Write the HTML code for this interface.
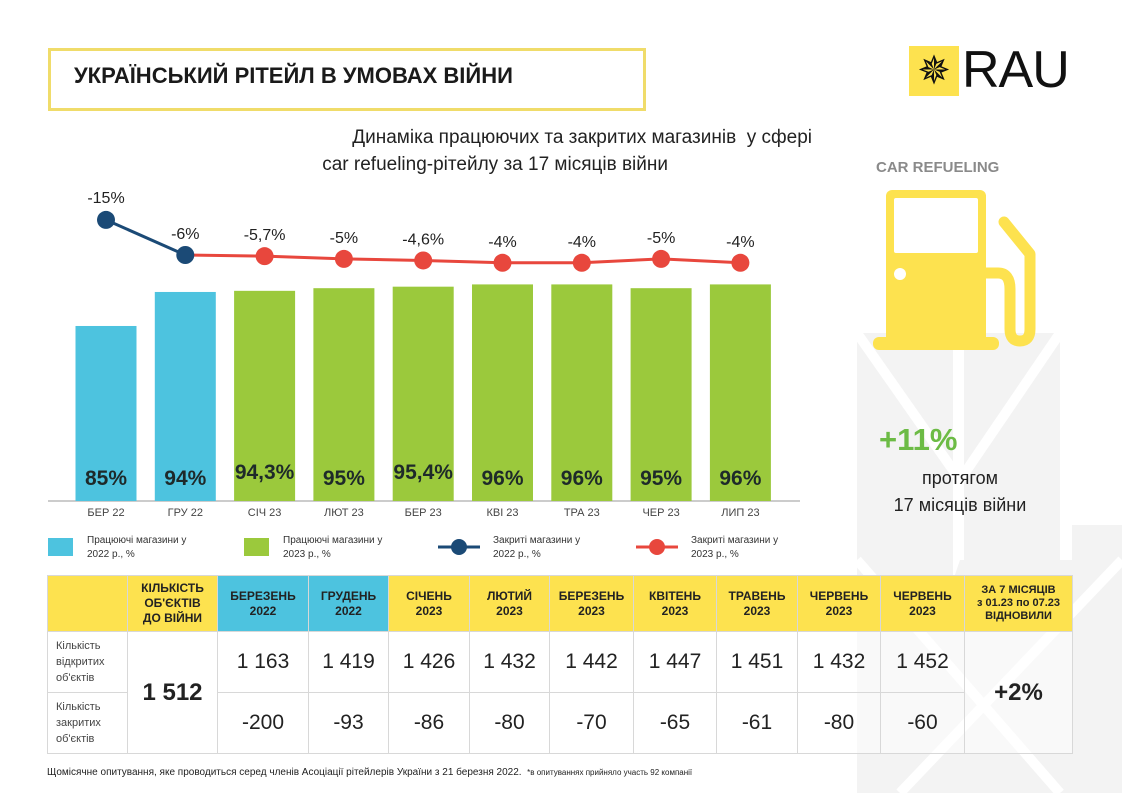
<!DOCTYPE html>
<html><head><meta charset="utf-8"><style>
html,body{margin:0;padding:0;background:#fff}
body{width:1122px;height:793px;position:relative;overflow:hidden;font-family:"Liberation Sans Narrow","Liberation Sans",sans-serif;color:#222}
.abs{position:absolute}
table{border-collapse:collapse;position:absolute;left:47px;top:575px;table-layout:fixed}
td{border:1px solid #d8d8d8;text-align:center;padding:0;background:rgba(255,255,255,0.5)}
td.h{background:#fde24f;font-size:12px;font-weight:bold;line-height:15px;color:#222;height:55px}
td.hb{background:#4dc3df}
td.n{font-family:"Liberation Sans",sans-serif;font-size:21px;color:#222;height:60px}
td.lab{font-size:11px;color:#444;text-align:left;padding-left:8px;line-height:16px}
</style></head><body>
<svg class="abs" style="left:0;top:0" width="1122" height="793">
<g fill="#f3f3f3">
<rect x="857" y="333" width="96" height="460"/>
<rect x="964" y="333" width="96" height="460"/>
<rect x="1072" y="525" width="50" height="95"/>
<rect x="1072" y="637" width="50" height="96"/>
<polygon points="960,560 1122,560 1122,793 880,793"/>
</g>
<g stroke="#fff" stroke-width="10">
<line x1="857" y1="333" x2="960" y2="480"/><line x1="1060" y1="333" x2="960" y2="480"/>
<line x1="857" y1="560" x2="1060" y2="793"/><line x1="1122" y1="560" x2="900" y2="793"/>
</g>
</svg>

<div class="abs" style="left:48px;top:48px;width:592px;height:57px;border:3px solid #f0dc6a;"></div>
<div class="abs" style="left:74px;top:63px;font-size:22px;font-weight:bold;color:#1a1a1a">УКРАЇНСЬКИЙ РІТЕЙЛ В УМОВАХ ВІЙНИ</div>

<div class="abs" style="left:909px;top:46px;width:50px;height:50px;background:#fde24f;display:flex;align-items:center;justify-content:center;font-size:40px;color:#111;line-height:1">✵</div>
<div class="abs" style="left:962px;top:40px;font-family:'Liberation Sans',sans-serif;font-size:52px;color:#111;letter-spacing:-1px">RAU</div>

<div class="abs" style="left:200px;top:124px;width:612px;text-align:right;font-size:19px;line-height:27px;color:#222">Динаміка працюючих та закритих магазинів&nbsp; у сфері<br><span style="margin-right:144px">car refueling-рітейлу за 17 місяців війни</span></div>

<div class="abs" style="left:876px;top:159px;font-family:'Liberation Sans',sans-serif;font-weight:bold;font-size:15px;color:#8a8a8a">CAR REFUELING</div>
<svg class="abs" style="left:870px;top:185px" width="180" height="180">
<g fill="#fde24f">
<rect x="16" y="5" width="100" height="155" rx="6"/>
<rect x="3" y="152" width="126" height="13" rx="6"/>
</g>
<rect x="24" y="13" width="84" height="55" fill="#fff" rx="2"/>
<circle cx="30" cy="89" r="6" fill="#fff"/>
<path d="M116 88 h12 q12 0 12 16 v40 q0 12 10 12 q10 0 10 -12 v-75 l-26 -32" fill="none" stroke="#fde24f" stroke-width="11" stroke-linecap="round" stroke-linejoin="round"/>
</svg>
<div class="abs" style="left:879px;top:422px;font-family:'Liberation Sans',sans-serif;font-weight:bold;font-size:31px;color:#6cbb45">+11%</div>
<div class="abs" style="left:860px;top:465px;width:200px;text-align:center;font-family:'Liberation Sans',sans-serif;font-size:18px;line-height:27px;color:#222">протягом<br>17 місяців війни</div>

<svg id="chart" class="abs" style="left:0;top:0" width="820" height="570"></svg>

<table>
<colgroup><col style="width:80px"><col style="width:90px"><col style="width:91px"><col style="width:80px"><col style="width:81px"><col style="width:80px"><col style="width:84px"><col style="width:83px"><col style="width:81px"><col style="width:83px"><col style="width:84px"><col style="width:108px"></colgroup>
<tr>
<td class="h"></td>
<td class="h">КІЛЬКІСТЬ<br>ОБ'ЄКТІВ<br>ДО ВІЙНИ</td>
<td class="h hb">БЕРЕЗЕНЬ<br>2022</td>
<td class="h hb">ГРУДЕНЬ<br>2022</td>
<td class="h">СІЧЕНЬ<br>2023</td>
<td class="h">ЛЮТИЙ<br>2023</td>
<td class="h">БЕРЕЗЕНЬ<br>2023</td>
<td class="h">КВІТЕНЬ<br>2023</td>
<td class="h">ТРАВЕНЬ<br>2023</td>
<td class="h">ЧЕРВЕНЬ<br>2023</td>
<td class="h">ЧЕРВЕНЬ<br>2023</td>
<td class="h" style="font-size:11px;line-height:13px">ЗА 7 МІСЯЦІВ<br>з 01.23 по 07.23<br>ВІДНОВИЛИ</td>
</tr>
<tr>
<td class="lab">Кількість<br>відкритих<br>об'єктів</td>
<td class="n" rowspan="2" style="font-weight:bold;font-size:24px">1 512</td>
<td class="n">1 163</td><td class="n">1 419</td><td class="n">1 426</td><td class="n">1 432</td><td class="n">1 442</td><td class="n">1 447</td><td class="n">1 451</td><td class="n">1 432</td><td class="n">1 452</td>
<td class="n" rowspan="2" style="font-weight:bold;font-size:24px">+2%</td>
</tr>
<tr>
<td class="lab">Кількість<br>закритих<br>об'єктів</td>
<td class="n">-200</td><td class="n">-93</td><td class="n">-86</td><td class="n">-80</td><td class="n">-70</td><td class="n">-65</td><td class="n">-61</td><td class="n">-80</td><td class="n">-60</td>
</tr>
</table>

<div class="abs" style="left:47px;top:767px;font-size:10px;color:#222">Щомісячне опитування, яке проводиться серед членів Асоціації рітейлерів України з 21 березня 2022. &nbsp;<span style="font-size:8px">*в опитуваннях прийняло участь 92 компанії</span></div>

<script>
const categories = ["БЕР 22","ГРУ 22","СІЧ 23","ЛЮТ 23","БЕР 23","КВІ 23","ТРА 23","ЧЕР 23","ЛИП 23"];
const openValues = [85,94,94.3,95,95.4,96,96,95,96];
const openLabels = ["85%","94%","94,3%","95%","95,4%","96%","96%","95%","96%"];
const closedValues = [-15,-6,-5.7,-5,-4.6,-4,-4,-5,-4];
const closedLabels = ["-15%","-6%","-5,7%","-5%","-4,6%","-4%","-4%","-5%","-4%"];
const yearOf = [2022,2022,2023,2023,2023,2023,2023,2023,2023];

const svg = document.getElementById('chart');
const NS = 'http://www.w3.org/2000/svg';
const x0 = 106, step = 79.3, barW = 61, base = 501;
const xPos = i => x0 + i*step;
const yBar = v => base - (v - 38.7) * 3.78;
const yLine = v => 255 + (v + 6) * 3.9;
function mk(tag, attrs){const e=document.createElementNS(NS,tag);for(const k in attrs)e.setAttribute(k,attrs[k]);svg.appendChild(e);return e;}

const axis = mk('line',{x1:48,y1:base,x2:800,y2:base,stroke:'#999','stroke-width':1});



categories.forEach((c,i)=>{
  const r = mk('rect',{x:xPos(i)-barW/2,y:yBar(openValues[i]),width:barW,height:base-yBar(openValues[i]),fill:yearOf[i]===2022?'#4dc3df':'#9bc93c'});
  
  
  const lift = openLabels[i].length > 4 ? 6 : 0;
  const t = mk('text',{x:xPos(i),y:485-lift,'text-anchor':'middle','font-size':21,'font-weight':'bold',fill:'#1e2a2a'});
  t.textContent = openLabels[i];
  
  
  const xl = mk('text',{x:xPos(i),y:516,'text-anchor':'middle','font-size':11,fill:'#444'});
  xl.textContent = c;
  
  
});

function series(idx, color, name){
  const pts = idx.map(i=>xPos(i)+','+yLine(closedValues[i])).join(' ');
  const pl = mk('polyline',{points:pts,fill:'none',stroke:color,'stroke-width':3});
  
  
}
series([1,2,3,4,5,6,7,8],'#e8473d','closed-2023');
series([0,1],'#1b4a76','closed-2022');
closedValues.forEach((v,i)=>{
  const c = mk('circle',{cx:xPos(i),cy:yLine(v),r:9,fill:yearOf[i]===2022?'#1b4a76':'#e8473d'});
  
  
  const t = mk('text',{x:xPos(i),y:yLine(v)-(i===0?17:16),'text-anchor':'middle','font-size':16,fill:'#222'});
  t.textContent = closedLabels[i];
  
  
});

const lg = [
 {x:48,type:'box',c:'#4dc3df',t1:'Працюючі магазини у',t2:'2022 р., %'},
 {x:244,type:'box',c:'#9bc93c',t1:'Працюючі магазини у',t2:'2023 р., %'},
 {x:438,type:'line',c:'#1b4a76',t1:'Закриті магазини у',t2:'2022 р., %'},
 {x:636,type:'line',c:'#e8473d',t1:'Закриті магазини у',t2:'2023 р., %'}
];
lg.forEach(l=>{
  if(l.type==='box'){
    const r = mk('rect',{x:l.x,y:538,width:25,height:18,fill:l.c});
    
    
  } else {
    mk('line',{x1:l.x,y1:547,x2:l.x+42,y2:547,stroke:l.c,'stroke-width':3});
    const c = mk('circle',{cx:l.x+21,cy:547,r:8,fill:l.c});
    
    
  }
  const tx = l.x + (l.type==='box'?39:55);
  const t = mk('text',{x:tx,y:543,'font-size':10,fill:'#333'});
  t.textContent = l.t1;
  
  
  const t2 = mk('text',{x:tx,y:557,'font-size':10,fill:'#333'});
  t2.textContent = l.t2;
  
  
});
</script>
</body></html>
